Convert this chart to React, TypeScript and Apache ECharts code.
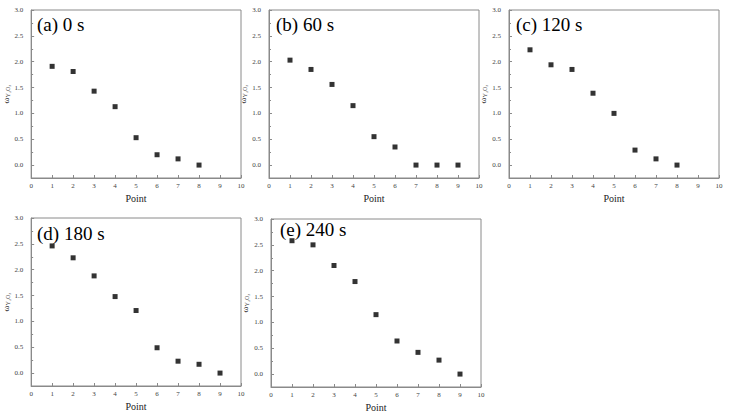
import React, { useEffect, useRef } from "react";
import * as echarts from "echarts";

const panelTitles = ["(a) 0 s", "(b) 60 s", "(c) 120 s", "(d) 180 s", "(e) 240 s"];
const seriesA = [1.91, 1.81, 1.43, 1.13, 0.53, 0.2, 0.12, 0.0];
const seriesB = [2.03, 1.85, 1.56, 1.15, 0.55, 0.35, 0.0, 0.0, 0.0];
const seriesC = [2.23, 1.94, 1.85, 1.39, 1.0, 0.29, 0.12, 0.0];
const seriesD = [2.46, 2.23, 1.88, 1.48, 1.21, 0.49, 0.23, 0.17, 0.0];
const seriesE = [2.58, 2.5, 2.1, 1.79, 1.15, 0.64, 0.42, 0.27, 0.0];
const allSeries = [seriesA, seriesB, seriesC, seriesD, seriesE];
const yMajorTicks = [0, 0.5, 1.0, 1.5, 2.0, 2.5, 3.0];
const yMinorTicks = [-0.25, 0.25, 0.75, 1.25, 1.75, 2.25, 2.75];

const grids = [
  { left: 30, top: 10, width: 211, height: 168 },
  { left: 269, top: 10, width: 210, height: 168 },
  { left: 509, top: 10, width: 210, height: 168 },
  { left: 30, top: 218, width: 211, height: 168 },
  { left: 271, top: 219, width: 210, height: 168 },
];
const titlePos = [
  { left: 37, top: 15 },
  { left: 276, top: 15 },
  { left: 516, top: 15 },
  { left: 37, top: 224 },
  { left: 280, top: 220 },
];

const FONT = "'Liberation Serif', 'Times New Roman', serif";
const AX = "#8a8a8a";

export default function App() {
  const ref = useRef<HTMLDivElement>(null);
  useEffect(() => {
    document.body.style.margin = "0";
    const chart = echarts.init(ref.current!, null, { renderer: "svg" });
    const xAxis: any[] = [];
    const yAxis: any[] = [];
    const series: any[] = [];
    grids.forEach((g, i) => {
      xAxis.push({
        type: "value",
        gridIndex: i,
        min: 0,
        max: 10,
        interval: 1,
        name: "Point",
        nameLocation: "middle",
        nameGap: 15,
        nameTextStyle: { fontFamily: FONT, fontSize: 10, color: "#222" },
        axisLine: { show: true, onZero: false, lineStyle: { color: AX, width: 1 } },
        axisTick: { show: true, inside: true, length: 3, lineStyle: { color: AX } },
        axisLabel: { fontFamily: FONT, fontSize: 7, color: "#444", margin: 4 },
        splitLine: { show: false },
      });
      yAxis.push({
        type: "value",
        gridIndex: i,
        min: -0.25,
        max: 3.0,
        name: "{w|ω}{s|Y₂O₃}",
        nameLocation: "middle",
        nameRotate: 90,
        nameGap: 18,
        nameTextStyle: {
          fontFamily: FONT,
          color: "#333",
          rich: {
            w: { fontFamily: FONT, fontSize: 9, color: "#333" },
            s: { fontFamily: FONT, fontSize: 6, color: "#333", verticalAlign: "bottom", padding: [4, 0, 0, 0] },
          },
        },
        axisLine: { show: true, onZero: false, lineStyle: { color: AX, width: 1 } },
        axisTick: { show: true, inside: true, length: 3, customValues: yMajorTicks, lineStyle: { color: AX } },
        axisLabel: {
          fontFamily: FONT,
          fontSize: 7,
          color: "#444",
          margin: 8,
          customValues: yMajorTicks,
          formatter: (v: number) => v.toFixed(1),
        },
        splitLine: { show: false },
      });
      yAxis.push({
        type: "value",
        gridIndex: i,
        min: -0.25,
        max: 3.0,
        position: "left",
        axisLine: { show: false, onZero: false },
        axisTick: { show: true, inside: true, length: 2, customValues: yMinorTicks, lineStyle: { color: AX } },
        axisLabel: { show: false, customValues: yMinorTicks },
        splitLine: { show: false },
      });
      series.push({
        type: "scatter",
        xAxisIndex: i,
        yAxisIndex: i * 2,
        symbol: "rect",
        symbolSize: 5,
        itemStyle: { color: "#000" },
        data: allSeries[i].map((v, k) => [k + 1, v]),
      });
    });
    chart.setOption({
      animation: false,
      backgroundColor: "#fff",
      title: panelTitles.map((t, i) => ({
        text: t,
        left: titlePos[i].left,
        top: titlePos[i].top,
        padding: 0,
        textStyle: { fontFamily: FONT, fontSize: 19, fontWeight: "normal", color: "#000" },
      })),
      grid: grids.map((g) => ({ ...g, show: true, borderColor: AX, borderWidth: 1, backgroundColor: "transparent" })),
      xAxis,
      yAxis,
      series,
    });
    return () => chart.dispose();
  }, []);
  return <div ref={ref} style={{ width: 730, height: 416, position: "absolute", left: 0, top: 0 }} />;
}
